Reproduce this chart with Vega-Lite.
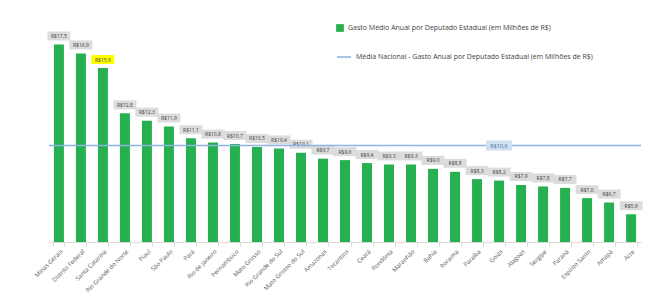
{
  "$schema": "https://vega.github.io/schema/vega-lite/v6.json",
  "width": 592,
  "height": 212,
  "autosize": {"type": "none"},
  "padding": {"left": 49, "top": 30, "right": 19, "bottom": 55},
  "background": "white",
  "config": {"view": {"stroke": null}, "font": "Open Sans"},
  "datasets": {
    "estados": [
      {"estado": "Minas Gerais", "valor": 17.5, "rotulo": "R$17,5", "destaque": "nao"},
      {"estado": "Distrito Federal", "valor": 16.9, "rotulo": "R$16,9", "destaque": "nao"},
      {"estado": "Santa Catarina", "valor": 15.9, "rotulo": "R$15,9", "destaque": "sim"},
      {"estado": "Rio Grande do Norte", "valor": 12.8, "rotulo": "R$12,8", "destaque": "nao"},
      {"estado": "Piauí", "valor": 12.3, "rotulo": "R$12,3", "destaque": "nao"},
      {"estado": "São Paulo", "valor": 11.9, "rotulo": "R$11,9", "destaque": "nao"},
      {"estado": "Pará", "valor": 11.1, "rotulo": "R$11,1", "destaque": "nao"},
      {"estado": "Rio de Janeiro", "valor": 10.8, "rotulo": "R$10,8", "destaque": "nao"},
      {"estado": "Pernambuco", "valor": 10.7, "rotulo": "R$10,7", "destaque": "nao"},
      {"estado": "Mato Grosso", "valor": 10.5, "rotulo": "R$10,5", "destaque": "nao"},
      {"estado": "Rio Grande do Sul", "valor": 10.4, "rotulo": "R$10,4", "destaque": "nao"},
      {"estado": "Mato Grosso do Sul", "valor": 10.1, "rotulo": "R$10,1", "destaque": "nao"},
      {"estado": "Amazonas", "valor": 9.7, "rotulo": "R$9,7", "destaque": "nao"},
      {"estado": "Tocantins", "valor": 9.6, "rotulo": "R$9,6", "destaque": "nao"},
      {"estado": "Ceará", "valor": 9.4, "rotulo": "R$9,4", "destaque": "nao"},
      {"estado": "Rondônia", "valor": 9.3, "rotulo": "R$9,3", "destaque": "nao"},
      {"estado": "Maranhão", "valor": 9.3, "rotulo": "R$9,3", "destaque": "nao"},
      {"estado": "Bahia", "valor": 9.0, "rotulo": "R$9,0", "destaque": "nao"},
      {"estado": "Roraima", "valor": 8.8, "rotulo": "R$8,8", "destaque": "nao"},
      {"estado": "Paraíba", "valor": 8.3, "rotulo": "R$8,3", "destaque": "nao"},
      {"estado": "Goiás", "valor": 8.2, "rotulo": "R$8,2", "destaque": "nao"},
      {"estado": "Alagoas", "valor": 7.9, "rotulo": "R$7,9", "destaque": "nao"},
      {"estado": "Sergipe", "valor": 7.8, "rotulo": "R$7,8", "destaque": "nao"},
      {"estado": "Paraná", "valor": 7.7, "rotulo": "R$7,7", "destaque": "nao"},
      {"estado": "Espírito Santo", "valor": 7.0, "rotulo": "R$7,0", "destaque": "nao"},
      {"estado": "Amapá", "valor": 6.7, "rotulo": "R$6,7", "destaque": "nao"},
      {"estado": "Acre", "valor": 5.9, "rotulo": "R$5,9", "destaque": "nao"}
    ],
    "media": [
      {"media": 10.6, "rotulo": "R$10,6", "estado": "Goiás", "serie": "Média Nacional - Gasto Anual por Deputado Estadual (em Milhões de R$)"}
    ]
  },
  "layer": [
    {
      "data": {"name": "estados"},
      "mark": {"type": "bar", "width": 10},
      "encoding": {
        "x": {
          "field": "estado", "type": "nominal", "sort": null,
          "scale": {"paddingInner": 0.5, "paddingOuter": 0.2},
          "axis": {
            "title": null, "labelAngle": -45, "labelFontSize": 6, "labelColor": "#595959",
            "domainColor": "#d9d9d9", "tickColor": "#d9d9d9", "tickBand": "extent", "tickSize": 4,
            "labelPadding": 2, "labelLimit": 200
          }
        },
        "y": {
          "field": "valor", "type": "quantitative",
          "scale": {"domain": [4, 18.5], "nice": false, "zero": false},
          "axis": null
        },
        "y2": {"datum": 4},
        "fill": {
          "datum": "Gasto Médio Anual por Deputado Estadual (em Milhões de R$)",
          "type": "nominal",
          "scale": {"range": ["#26b050"]},
          "legend": {
            "title": null, "orient": "none", "legendX": 287, "legendY": -6,
            "symbolType": "square", "symbolSize": 60, "labelFontSize": 7, "labelColor": "#404040",
            "symbolStrokeWidth": 0, "labelLimit": 400
          }
        }
      }
    },
    {
      "data": {"name": "estados"},
      "mark": {"type": "bar", "width": 23, "yOffset": -13, "y2Offset": -4},
      "encoding": {
        "x": {"field": "estado", "type": "nominal", "sort": null},
        "y": {"field": "valor", "type": "quantitative"},
        "y2": {"field": "valor"},
        "color": {
          "field": "destaque", "type": "nominal",
          "scale": {"domain": ["nao", "sim"], "range": ["#dcdcdc", "#ffff00"]},
          "legend": null
        }
      }
    },
    {
      "data": {"name": "estados"},
      "mark": {"type": "text", "dy": -8.5, "fontSize": 5, "color": "#404040"},
      "encoding": {
        "x": {"field": "estado", "type": "nominal", "sort": null},
        "y": {"field": "valor", "type": "quantitative"},
        "text": {"field": "rotulo"}
      }
    },
    {
      "data": {"name": "media"},
      "mark": {"type": "rule", "strokeWidth": 1.5},
      "encoding": {
        "y": {"field": "media", "type": "quantitative"},
        "stroke": {
          "field": "serie", "type": "nominal",
          "scale": {"range": ["#8db4e2"]},
          "legend": {
            "title": null, "orient": "none", "legendX": 287, "legendY": 19,
            "symbolType": "stroke", "symbolSize": 200, "symbolStrokeWidth": 1.5,
            "labelFontSize": 7, "labelColor": "#404040", "labelLimit": 400
          }
        }
      }
    },
    {
      "data": {"name": "media"},
      "mark": {"type": "bar", "width": 26, "yOffset": -5, "y2Offset": 5, "color": "#cfe0f3"},
      "encoding": {
        "x": {"field": "estado", "type": "nominal", "sort": null},
        "y": {"field": "media", "type": "quantitative"},
        "y2": {"field": "media"}
      }
    },
    {
      "data": {"name": "media"},
      "mark": {"type": "text", "fontSize": 5.5, "color": "#4a6f9c", "baseline": "middle"},
      "encoding": {
        "x": {"field": "estado", "type": "nominal", "sort": null},
        "y": {"field": "media", "type": "quantitative"},
        "text": {"field": "rotulo"}
      }
    }
  ]
}
